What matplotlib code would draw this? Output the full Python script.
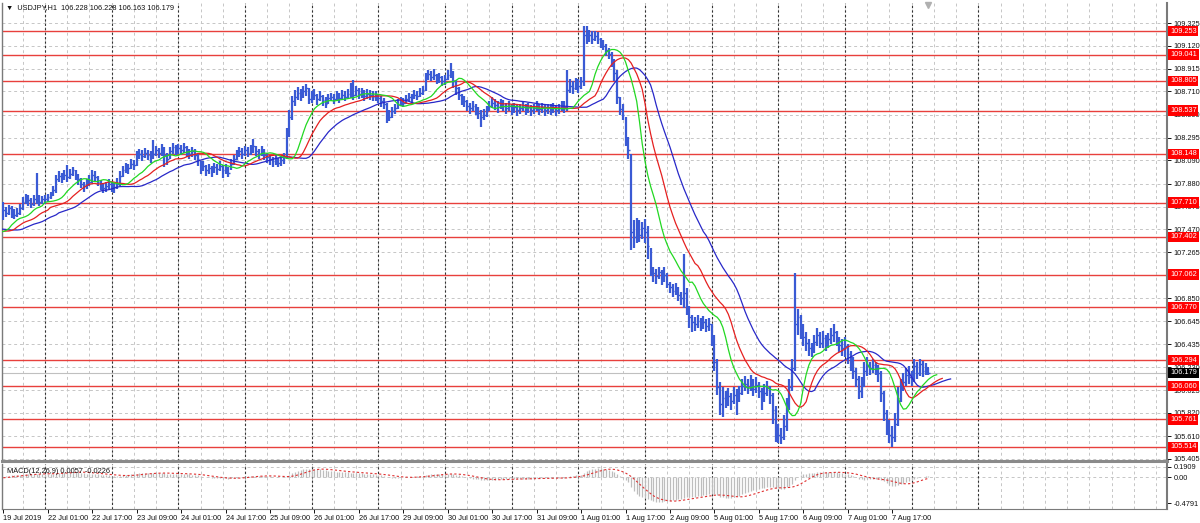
import numpy as np
import pandas as pd
import matplotlib
matplotlib.use('Agg')
import matplotlib.pyplot as plt
import matplotlib.transforms as mtransforms

# USDJPY H1 bars. pre_* = history before the visible window (18 Jul 17:00 - 19 Jul 08:00)
pre_close = [107.50, 107.46, 107.44, 107.48, 107.45, 107.42, 107.40, 107.43,
             107.46, 107.44, 107.42, 107.45, 107.48, 107.46, 107.50, 107.55]
pre_high = [107.55, 107.51, 107.49, 107.52, 107.50, 107.47, 107.45, 107.47,
            107.50, 107.49, 107.47, 107.49, 107.52, 107.51, 107.55, 107.60]
pre_low = [107.45, 107.41, 107.39, 107.43, 107.40, 107.37, 107.35, 107.38,
           107.41, 107.39, 107.37, 107.40, 107.43, 107.41, 107.45, 107.49]

# visible bars, 19 Jul 09:00 .. 8 Aug 06:00 (one row per day)
close = [
    107.64, 107.62, 107.66, 107.63, 107.60, 107.62, 107.66, 107.72, 107.75, 107.73, 107.70, 107.74, 107.76, 107.72, 107.74,
    107.74, 107.76, 107.78, 107.82, 107.92, 107.95, 107.93, 107.96, 107.94, 107.97, 108.00, 107.96, 107.92, 107.88, 107.86, 107.88, 107.90, 107.96, 107.94, 107.90, 107.87, 107.84, 107.86, 107.88,
    107.86, 107.85, 107.88, 107.95, 108.00, 108.03, 108.02, 108.06, 108.05, 108.12, 108.15, 108.13, 108.16, 108.14, 108.12, 108.15, 108.18, 108.16, 108.20, 108.14, 108.10, 108.17, 108.21, 108.19,
    108.20, 108.18, 108.21, 108.17, 108.15, 108.17, 108.14, 108.10, 108.02, 108.04, 108.00, 108.02, 107.99, 108.03, 108.01, 108.04, 108.00, 108.02, 107.98, 108.06, 108.10, 108.14, 108.17, 108.15,
    108.18, 108.16, 108.19, 108.22, 108.17, 108.15, 108.18, 108.14, 108.12, 108.10, 108.08, 108.10, 108.07, 108.09, 108.12, 108.33, 108.48, 108.62, 108.66, 108.70, 108.68, 108.71, 108.74, 108.64,
    108.66, 108.68, 108.64, 108.67, 108.63, 108.60, 108.65, 108.66, 108.64, 108.67, 108.65, 108.68, 108.66, 108.69, 108.70, 108.68, 108.72, 108.69, 108.70, 108.67, 108.69, 108.68, 108.66, 108.67,
    108.65, 108.62, 108.60, 108.50, 108.48, 108.53, 108.56, 108.60, 108.62, 108.61, 108.64, 108.66, 108.65, 108.68, 108.67, 108.70, 108.72, 108.85, 108.87, 108.84, 108.86, 108.82, 108.84, 108.80,
    108.82, 108.86, 108.88, 108.80, 108.74, 108.68, 108.64, 108.62, 108.58, 108.56, 108.58, 108.55, 108.52, 108.48, 108.50, 108.53, 108.58, 108.61, 108.59, 108.57, 108.60, 108.58, 108.56, 108.58,
    108.55, 108.57, 108.54, 108.56, 108.58, 108.55, 108.57, 108.54, 108.56, 108.58, 108.55, 108.57, 108.54, 108.56, 108.55, 108.57, 108.54, 108.56, 108.58, 108.57, 108.72, 108.76, 108.74, 108.78,
    108.76, 108.80, 109.22, 109.20, 109.22, 109.18, 109.21, 109.18, 109.15, 109.12, 109.08, 109.05, 108.98, 108.88, 108.66, 108.55, 108.50, 108.28, 108.18, 107.45, 107.40, 107.50, 107.42, 107.48,
    107.45, 107.32, 107.10, 107.08, 107.05, 107.09, 107.02, 107.06, 106.98, 106.95, 106.92, 106.94, 106.88, 106.85, 106.90, 106.76, 106.68, 106.64, 106.62, 106.65, 106.62, 106.64, 106.60, 106.62,
    106.50, 106.28, 106.05, 105.90, 105.95, 105.92, 105.97, 105.93, 105.98, 105.94, 106.00, 106.06, 106.08, 106.04, 106.08, 106.03, 106.07, 106.02, 105.96, 106.00, 106.04, 105.98, 105.85, 105.65,
    105.62, 105.60, 105.70, 105.88, 106.05, 106.22, 106.62, 106.68, 106.55, 106.50, 106.45, 106.40, 106.38, 106.46, 106.52, 106.45, 106.49, 106.44, 106.48, 106.52, 106.55, 106.48, 106.43, 106.40,
    106.42, 106.35, 106.28, 106.20, 106.12, 106.02, 106.08, 106.20, 106.24, 106.22, 106.25, 106.21, 106.18, 106.00, 105.82, 105.70, 105.62, 105.60, 105.72, 105.95, 106.05, 106.10, 106.16, 106.14,
    106.12, 106.24, 106.18, 106.26, 106.20, 106.23, 106.179,
]
high = [
    107.72, 107.67, 107.69, 107.68, 107.65, 107.66, 107.70, 107.76, 107.79, 107.78, 107.75, 107.78, 107.98, 107.78, 107.77,
    107.78, 107.79, 107.81, 107.86, 107.96, 107.99, 107.98, 108.00, 108.05, 108.01, 108.03, 108.00, 107.97, 107.93, 107.90, 107.92, 107.96, 108.00, 107.99, 107.95, 107.91, 107.89, 107.90, 107.92,
    107.90, 107.89, 107.93, 107.99, 108.04, 108.07, 108.06, 108.10, 108.09, 108.17, 108.19, 108.18, 108.20, 108.18, 108.17, 108.27, 108.22, 108.20, 108.24, 108.21, 108.16, 108.21, 108.25, 108.23,
    108.24, 108.23, 108.25, 108.22, 108.19, 108.21, 108.19, 108.15, 108.08, 108.08, 108.05, 108.06, 108.04, 108.07, 108.06, 108.08, 108.05, 108.06, 108.03, 108.10, 108.14, 108.18, 108.21, 108.20,
    108.22, 108.21, 108.23, 108.28, 108.22, 108.19, 108.22, 108.19, 108.16, 108.14, 108.12, 108.14, 108.11, 108.13, 108.16, 108.38, 108.54, 108.67, 108.72, 108.75, 108.73, 108.76, 108.78, 108.74,
    108.71, 108.73, 108.69, 108.71, 108.68, 108.66, 108.69, 108.70, 108.69, 108.71, 108.70, 108.72, 108.71, 108.73, 108.79, 108.81, 108.76, 108.74, 108.74, 108.72, 108.73, 108.72, 108.71, 108.71,
    108.69, 108.67, 108.65, 108.61, 108.54, 108.57, 108.60, 108.64, 108.66, 108.65, 108.68, 108.70, 108.69, 108.72, 108.71, 108.74, 108.76, 108.88, 108.90, 108.89, 108.91, 108.87, 108.88, 108.85,
    108.86, 108.90, 108.97, 108.89, 108.81, 108.75, 108.69, 108.67, 108.63, 108.61, 108.62, 108.60, 108.57, 108.54, 108.55, 108.58, 108.62, 108.66, 108.64, 108.62, 108.64, 108.63, 108.61, 108.62,
    108.60, 108.61, 108.59, 108.60, 108.62, 108.60, 108.61, 108.59, 108.60, 108.62, 108.60, 108.61, 108.59, 108.60, 108.60, 108.61, 108.59, 108.60, 108.62, 108.62, 108.90, 108.82, 108.80, 108.83,
    108.82, 108.84, 109.30, 109.30, 109.26, 109.25, 109.25, 109.24, 109.19, 109.17, 109.14, 109.10, 109.06, 109.00, 108.90, 108.66, 108.60, 108.48, 108.30, 108.15, 107.55, 107.57, 107.55, 107.54,
    107.56, 107.50, 107.30, 107.13, 107.11, 107.13, 107.10, 107.13, 107.08, 107.00, 106.98, 106.99, 106.95, 106.91, 107.25, 106.94, 106.78, 106.70, 106.68, 106.70, 106.67, 106.69, 106.66, 106.67,
    106.62, 106.52, 106.30, 106.10, 106.05, 106.02, 106.04, 106.00, 106.05, 106.03, 106.06, 106.12, 106.15, 106.12, 106.16, 106.12, 106.14, 106.10, 106.04, 106.08, 106.11, 106.06, 106.00, 105.88,
    105.72, 105.68, 105.80, 105.95, 106.12, 106.30, 107.08, 106.75, 106.70, 106.62, 106.55, 106.48, 106.45, 106.52, 106.58, 106.55, 106.56, 106.52, 106.54, 106.58, 106.62, 106.56, 106.50, 106.48,
    106.50, 106.44, 106.38, 106.32, 106.22, 106.15, 106.14, 106.28, 106.32, 106.28, 106.30, 106.28, 106.25, 106.20, 106.02, 105.85, 105.76, 105.70, 105.82, 106.05, 106.12, 106.18, 106.22, 106.24,
    106.20, 106.30, 106.28, 106.30, 106.29, 106.27, 106.228,
]
low = [
    107.55, 107.58, 107.60, 107.57, 107.56, 107.58, 107.60, 107.64, 107.70, 107.68, 107.66, 107.68, 107.70, 107.68, 107.70,
    107.70, 107.72, 107.74, 107.77, 107.80, 107.90, 107.89, 107.91, 107.90, 107.92, 107.95, 107.91, 107.87, 107.84, 107.81, 107.83, 107.86, 107.89, 107.90, 107.86, 107.82, 107.80, 107.81, 107.83,
    107.81, 107.80, 107.83, 107.86, 107.94, 107.98, 107.97, 108.01, 108.00, 108.04, 108.10, 108.08, 108.11, 108.09, 108.07, 108.10, 108.13, 108.11, 108.13, 108.03, 108.05, 108.10, 108.15, 108.14,
    108.15, 108.14, 108.16, 108.12, 108.10, 108.12, 108.09, 108.04, 107.97, 107.99, 107.95, 107.97, 107.94, 107.98, 107.96, 107.99, 107.93, 107.97, 107.94, 108.00, 108.05, 108.09, 108.12, 108.10,
    108.13, 108.12, 108.14, 108.16, 108.13, 108.10, 108.13, 108.09, 108.07, 108.05, 108.03, 108.05, 108.03, 108.04, 108.06, 108.10, 108.30, 108.45, 108.58, 108.63, 108.62, 108.65, 108.67, 108.60,
    108.61, 108.63, 108.59, 108.62, 108.58, 108.56, 108.60, 108.62, 108.60, 108.62, 108.61, 108.63, 108.62, 108.64, 108.65, 108.63, 108.67, 108.64, 108.65, 108.62, 108.64, 108.63, 108.62, 108.62,
    108.61, 108.57, 108.55, 108.43, 108.44, 108.47, 108.51, 108.55, 108.58, 108.57, 108.60, 108.62, 108.61, 108.64, 108.63, 108.66, 108.68, 108.71, 108.81, 108.80, 108.81, 108.78, 108.79, 108.76,
    108.77, 108.81, 108.83, 108.74, 108.68, 108.63, 108.59, 108.57, 108.53, 108.51, 108.53, 108.50, 108.46, 108.39, 108.45, 108.48, 108.53, 108.56, 108.54, 108.52, 108.55, 108.53, 108.51, 108.53,
    108.50, 108.52, 108.49, 108.51, 108.53, 108.50, 108.52, 108.49, 108.51, 108.53, 108.50, 108.52, 108.49, 108.51, 108.50, 108.52, 108.49, 108.51, 108.53, 108.52, 108.53, 108.70, 108.69, 108.72,
    108.70, 108.73, 108.76, 109.14, 109.15, 109.14, 109.16, 109.14, 109.10, 109.08, 109.03, 109.00, 108.93, 108.80, 108.60, 108.50, 108.45, 108.22, 108.10, 107.28, 107.30, 107.35, 107.36, 107.38,
    107.35, 107.20, 107.05, 107.00, 106.98, 107.02, 106.97, 107.00, 106.94, 106.90, 106.86, 106.88, 106.83, 106.79, 106.76, 106.70, 106.58, 106.55, 106.56, 106.58, 106.56, 106.57, 106.55, 106.56,
    106.42, 106.20, 105.98, 105.80, 105.78, 105.86, 105.88, 105.85, 105.90, 105.80, 105.92, 105.98, 106.02, 105.99, 106.02, 105.97, 106.00, 105.95, 105.85, 105.92, 105.97, 105.90, 105.72, 105.56,
    105.55, 105.54, 105.58, 105.66, 105.85, 106.02, 106.20, 106.52, 106.48, 106.42, 106.38, 106.33, 106.32, 106.36, 106.42, 106.40, 106.40, 106.38, 106.40, 106.44, 106.46, 106.42, 106.37, 106.33,
    106.32, 106.26, 106.20, 106.12, 106.05, 105.94, 105.95, 106.05, 106.15, 106.16, 106.18, 106.16, 106.10, 105.92, 105.75, 105.62, 105.55, 105.51, 105.56, 105.70, 105.92, 106.02, 106.06, 106.08,
    106.06, 106.10, 106.12, 106.15, 106.14, 106.16, 106.163,
]

levels = [109.253, 109.041, 108.805, 108.537, 108.148, 107.710, 107.402,
          107.062, 106.770, 106.294, 106.060, 105.761, 105.514]
price_ticks = [109.325, 109.120, 108.915, 108.710, 108.500, 108.295, 108.090,
               107.880, 107.675, 107.470, 107.265, 107.060, 106.850, 106.645,
               106.435, 106.230, 106.025, 105.820, 105.610, 105.405]
# 107.060 sits fully under the 107.062 level box in the reference
price_tick_labels = ['109.325', '109.120', '108.915', '108.710', '108.500', '108.295',
                     '108.090', '107.880', '107.675', '107.470', '107.265', '',
                     '106.850', '106.645', '106.435', '106.230', '106.025', '105.820',
                     '105.610', '105.405']
time_labels = ['19 Jul 2019', '22 Jul 01:00', '22 Jul 17:00', '23 Jul 09:00',
               '24 Jul 01:00', '24 Jul 17:00', '25 Jul 09:00', '26 Jul 01:00',
               '26 Jul 17:00', '29 Jul 09:00', '30 Jul 01:00', '30 Jul 17:00',
               '31 Jul 09:00', '1 Aug 01:00', '1 Aug 17:00', '2 Aug 09:00',
               '5 Aug 01:00', '5 Aug 17:00', '6 Aug 09:00', '7 Aug 01:00',
               '7 Aug 17:00']
macd_ticks = [0.1909, 0.00, -0.4791]
macd_tick_labels = ['0.1909', '0.00', '-0.4791']
last_bid = 106.179
header = '\u25bc  USDJPY,H1  106.228 106.228 106.163 106.179'
macd_header = 'MACD(12,26,9) 0.0057 -0.0226'

BAR = '#3a5ad4'
GRID = '#c6c6c6'
LEVEL = '#e8403c'
plt.rcParams['font.family'] = ['Liberation Sans', 'DejaVu Sans']
FS = 5.3

# indicators: Alligator (SMMA of median price, shifted) and MACD
c_all = np.array(pre_close + close)
h_all = np.array(pre_high + high)
l_all = np.array(pre_low + low)
n_pre = len(pre_close)
idx_all = np.arange(len(c_all)) - n_pre
idx = np.arange(len(close))

median = pd.Series((h_all + l_all) / 2)
def smma(s, n):
    return s.ewm(alpha=1.0 / n, adjust=False).mean()
jaw = smma(median, 13)
teeth = smma(median, 8)
lips = smma(median, 5)

cs = pd.Series(c_all)
macd = cs.ewm(span=12, adjust=False).mean() - cs.ewm(span=26, adjust=False).mean()
signal = macd.rolling(9, min_periods=1).mean()

W, H = 1200, 523
fig = plt.figure(figsize=(12, 5.23), dpi=100)
ax = fig.add_axes([2 / W, 1 - 461 / H, 1165 / W, 458 / H])
am = fig.add_axes([2 / W, 1 - 509 / H, 1165 / W, 45 / H], sharex=ax)

xmin, xmax = -0.48, 418.9
day_starts = np.arange(15, 352, 24)
grid_x = np.arange(7, 419, 8)

for a in (ax, am):
    for g in grid_x:
        a.axvline(g, color=GRID, lw=0.7, ls=(0, (3, 3)), zorder=0)
    for d in day_starts:
        a.axvline(d, color='#333333', lw=0.8, ls=(0, (2, 2)), zorder=0.5)
    for s in a.spines.values():
        s.set_color('#7a7a7a')
    a.spines['top'].set_visible(False)
    a.spines['right'].set_linewidth(1.5)
    a.spines['left'].set_linewidth(1.0)

# main price panel
for p in price_ticks:
    ax.axhline(p, color=GRID, lw=0.7, ls=(0, (3, 3)), zorder=0)
for lv in levels:
    ax.axhline(lv, color=LEVEL, lw=1.0, zorder=1)
ax.axhline(last_bid, color='#c0c0c0', lw=0.8, zorder=1)

ax.vlines(idx, low, high, color=BAR, lw=1.6, zorder=3)
ax.hlines(close, idx, idx + 0.6, color=BAR, lw=1.0, zorder=3)

ax.plot(idx_all + 8, jaw, color='#2828c8', lw=0.9, zorder=4)
ax.plot(idx_all + 5, teeth, color='#e52020', lw=0.9, zorder=4)
ax.plot(idx_all + 3, lips, color='#22d822', lw=0.9, zorder=4)

# chart-shift marker at the top
ax.plot([333], [109.49], marker='v', ms=4, color='#b0b0b0', clip_on=False, zorder=5)

ax.set_xlim(xmin, xmax)
ax.set_ylim(105.387, 109.505)
ax.yaxis.tick_right()
ax.set_yticks(price_ticks)
ax.set_yticklabels(price_tick_labels)
ax.tick_params(axis='y', length=3, width=0.7, pad=1.5, labelsize=FS, colors='#111111')
ax.tick_params(axis='x', bottom=False, labelbottom=False)
ax.spines['bottom'].set_linewidth(2.2)
ax.spines['bottom'].set_color('#8a8a8a')

tr = mtransforms.blended_transform_factory(ax.transAxes, ax.transData)
for lv in levels:
    ax.text(1.0 + 3 / 1165, lv, f'{lv:.3f}', transform=tr, fontsize=FS, color='white',
            va='center', ha='left', zorder=6, clip_on=False,
            bbox=dict(boxstyle='square,pad=0.25', facecolor='#ff0000', edgecolor='none'))
ax.text(1.0 + 3 / 1165, last_bid, f'{last_bid:.3f}', transform=tr, fontsize=FS, color='white',
        va='center', ha='left', zorder=6, clip_on=False,
        bbox=dict(boxstyle='square,pad=0.25', facecolor='#000000', edgecolor='none'))

fig.text(6 / W, 1 - 8 / H, header, fontsize=FS, va='center', ha='left', color='#111111')

# MACD panel
am.vlines(idx, 0, macd.values[n_pre:], color='#bdbdbd', lw=0.9, zorder=2)
am.plot(idx, signal.values[n_pre:], color='#e03030', lw=0.8, ls=(0, (2, 2)), zorder=3)
am.axhline(0, color=GRID, lw=0.7, ls=(0, (3, 3)), zorder=0)
am.axhline(0.1909, color=GRID, lw=0.7, ls=(0, (3, 3)), zorder=0)
am.set_ylim(-0.5877, 0.2452)
am.yaxis.tick_right()
am.set_yticks(macd_ticks)
am.set_yticklabels(macd_tick_labels)
am.tick_params(axis='y', length=3, width=0.7, pad=1.5, labelsize=FS, colors='#111111')
am.set_xticks(np.arange(len(time_labels)) * 16)
am.set_xticklabels(time_labels, ha='left')
am.tick_params(axis='x', length=3, width=0.7, pad=1.2, labelsize=FS, colors='#111111')
am.text(5 / 1165, 0.92, macd_header, transform=am.transAxes, fontsize=FS,
        va='top', ha='left', color='#111111')
am.set_xlim(xmin, xmax)

fig.savefig('out.png', dpi=100, facecolor='white')
